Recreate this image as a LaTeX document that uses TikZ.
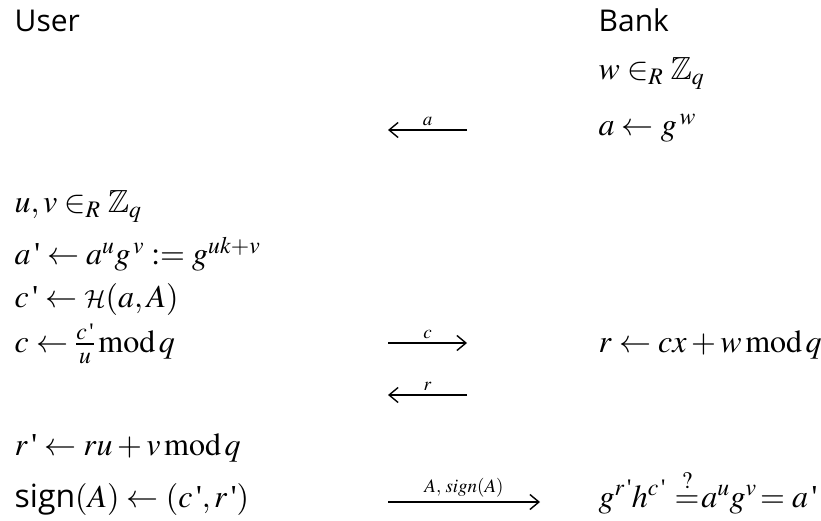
\documentclass[tikz,border=0pt]{standalone}
\usepackage{amsmath,amssymb}
\usepackage{mathptmx}
\DeclareMathAlphabet{\mathcal}{OMS}{cmsy}{m}{n}
\usepackage{fontspec}
\setmainfont{Liberation Serif}
\setsansfont{Open Sans}
\usetikzlibrary{arrows.meta}

\newcommand{\pr}{\mkern2mu\text{\textquotesingle}}

\tikzset{
	party/.style={anchor=base west, inner sep=0pt, font=\sffamily\fontsize{30}{32}\selectfont},
	stepline/.style={anchor=base west, inner sep=0pt, font=\fontsize{32}{36}\selectfont},
	msg/.style={font=\fontsize{19}{21}\selectfont, above, inner sep=4pt},
}

\begin{document}
\begin{tikzpicture}[x=1pt, y=-1pt, >={Straight Barb[length=9pt,width=15pt]}, line width=1.4pt]
	\useasboundingbox (0,0) rectangle (821,521);
	% parties
	\node[party] (user) at (14,32) {User};
	\node[party] (bank) at (598,32) {Bank};
	% bank commitment
	\node[stepline] (w) at (598,80) {$w \in_R \mathbb{Z}_q$};
	\node[stepline] (agw) at (598,136) {$a \leftarrow g^{\,w}$};
	% user blinding
	\node[stepline] (uv) at (14,213) {$u, v \in_R \mathbb{Z}_q$};
	\node[stepline] (ap) at (14,265) {$a\pr \leftarrow a^u g^{\,v} := g^{uk+v}$};
	\node[stepline] (cp) at (14,307) {$c\pr \leftarrow \mathcal{H}(a, A)$};
	\node[stepline] (c) at (14,352) {$c \leftarrow \tfrac{c\pr}{u}\,\mathrm{mod}\,q$};
	\node[stepline] (r) at (598,352) {$r \leftarrow cx + w\,\mathrm{mod}\,q$};
	\node[stepline] (rp) at (14,455) {$r\pr \leftarrow ru + v\,\mathrm{mod}\,q$};
	\node[stepline] (sign) at (14,507) {$\textsf{sign}(A) \leftarrow (c\pr, r\pr)$};
	\node[stepline] (ver) at (598,507) {$g^{r\pr} h^{c\pr}\mkern1mu\stackrel{?}{=}\mkern-3mu a^u g^v \mkern-2mu= a\pr$};
	% message ends
	\coordinate (aL) at (388,130);
	\coordinate (aR) at (467,130);
	\coordinate (cL) at (388,343);
	\coordinate (cR) at (467,343);
	\coordinate (rL) at (388,395);
	\coordinate (rR) at (467,395);
	\coordinate (sL) at (388,502);
	\coordinate (sR) at (540,502);
	\draw[->] (aR) -- (aL) node[msg, midway] {$a$};
	\draw[->] (cL) -- (cR) node[msg, midway] {$c$};
	\draw[->] (rR) -- (rL) node[msg, midway] {$r$};
	\draw[->] (sL) -- (sR) node[msg, midway] {$A,\, sign(A)$};
\end{tikzpicture}
\end{document}
